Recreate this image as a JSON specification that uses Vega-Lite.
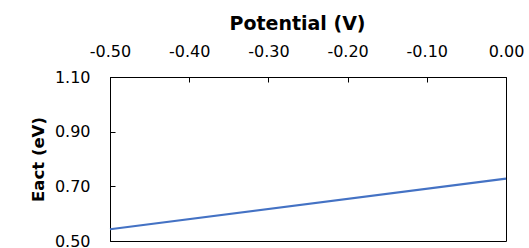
{
  "$schema": "https://vega.github.io/schema/vega-lite/v6.json",
  "width": 396,
  "height": 164,
  "autosize": "none",
  "padding": {"left": 110, "top": 77, "right": 23, "bottom": 7},
  "config": {
    "view": {"stroke": "#000000", "strokeWidth": 1},
    "font": "DejaVu Sans"
  },
  "data": {"values": [
    {"potential": -0.5, "eact": 0.543},
    {"potential": 0.0, "eact": 0.728}
  ]},
  "mark": {"type": "line", "color": "#4472C4", "strokeWidth": 2.25},
  "encoding": {
    "x": {
      "field": "potential", "type": "quantitative",
      "scale": {"domain": [-0.5, 0], "nice": false, "zero": false},
      "axis": {
        "orient": "top", "title": "Potential (V)", "values": [-0.5, -0.4, -0.3, -0.2, -0.1, 0],
        "format": ".2f", "labelExpr": "replace(datum.label, '−', '-')",
        "labelFlush": false, "labelOverlap": false,
        "grid": false, "domainColor": "#000000", "tickColor": "#000000",
        "tickSize": -5, "labelPadding": 23, "labelFontSize": 16, "labelColor": "#000000",
        "titleFont": "DejaVu Sans", "titleFontSize": 19, "titleFontWeight": "bold", "titleColor": "#000000",
        "titlePadding": 10, "titleX": 187
      }
    },
    "y": {
      "field": "eact", "type": "quantitative",
      "scale": {"domain": [0.5, 1.1], "nice": false, "zero": false},
      "axis": {
        "title": "Eact (eV)", "values": [0.5, 0.7, 0.9, 1.1],
        "format": ".2f", "labelFlush": false, "labelOverlap": false,
        "grid": false, "domainColor": "#000000", "tickColor": "#000000",
        "tickSize": -5, "labelPadding": 25, "labelFontSize": 16, "labelColor": "#000000",
        "titleFontSize": 16.5, "titleFontWeight": "bold", "titleColor": "#000000", "titlePadding": 8
      }
    }
  }
}
